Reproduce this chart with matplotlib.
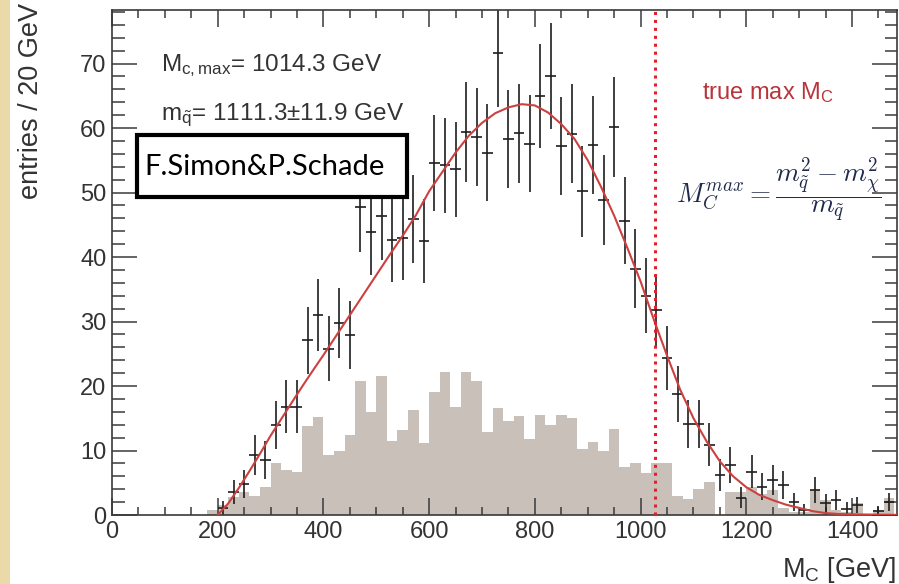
import numpy as np
import matplotlib
matplotlib.use("Agg")
import matplotlib.pyplot as plt
from matplotlib.patches import Rectangle
from matplotlib.ticker import MultipleLocator

plt.rcParams['font.family'] = ['Liberation Sans', 'DejaVu Sans']
plt.rcParams['mathtext.fontset'] = 'custom'
plt.rcParams['mathtext.rm'] = 'Liberation Sans'
plt.rcParams['mathtext.it'] = 'Liberation Sans:italic'
plt.rcParams['mathtext.bf'] = 'Liberation Sans:bold'

# background histogram (20 GeV bins, left edges)
bg_edges = [180, 200, 220, 240, 260, 280, 300, 320, 340, 360, 380, 400, 420, 440,
            460, 480, 500, 520, 540, 560, 580, 600, 620, 640, 660, 680, 700, 720,
            740, 760, 780, 800, 820, 840, 860, 880, 900, 920, 940, 960, 980, 1000,
            1020, 1040, 1060, 1080, 1100, 1120, 1140, 1160, 1180, 1200, 1220, 1240,
            1260, 1280, 1300, 1320, 1340, 1360, 1380, 1400, 1420, 1440, 1460]
bg_counts = [0.8, 1.5, 2.8, 3.6, 3.0, 4.4, 8.0, 6.9, 6.6, 13.8, 15.2, 9.3, 10.0, 12.4,
             20.8, 16.0, 21.6, 11.4, 13.2, 16.3, 11.1, 19.1, 22.1, 16.7, 22.1, 20.8, 12.8, 16.6,
             14.6, 15.3, 11.8, 15.5, 14.0, 15.5, 15.1, 10.2, 11.3, 10.0, 13.3, 7.4, 8.0, 6.5,
             8.0, 8.1, 3.0, 2.5, 4.1, 5.1, 0.0, 3.5, 3.5, 4.3, 3.3, 3.9,
             1.1, 0.5, 0.5, 3.9, 2.3, 0.8, 0.5, 1.8, 0.0, 0.8, 2.6]

# data points (bin centres)
mc_centres = [210, 230, 250, 270, 290, 310, 330, 350, 370, 390, 410, 430, 450, 470,
              490, 510, 530, 550, 570, 590, 610, 630, 650, 670, 690, 710, 730, 750,
              770, 790, 810, 830, 850, 870, 890, 910, 930, 950, 970, 990, 1010, 1030,
              1050, 1070, 1090, 1110, 1130, 1150, 1170, 1190, 1210, 1230, 1250, 1270,
              1290, 1310, 1330, 1350, 1370, 1390, 1410, 1450, 1470]
entries = [1.1, 3.6, 4.8, 9.3, 8.5, 14.0, 16.8, 16.8, 27.1, 31.0, 25.8, 29.8, 27.9, 47.7,
           43.9, 46.3, 42.6, 43.0, 45.9, 42.5, 54.6, 54.2, 53.6, 59.4, 58.6, 56.2, 71.7, 58.3,
           59.2, 57.6, 65.0, 68.1, 57.2, 59.1, 50.2, 57.4, 48.9, 60.1, 45.6, 38.2, 34.0, 31.8,
           24.3, 18.8, 14.1, 14.1, 10.9, 6.2, 7.8, 2.7, 6.7, 4.4, 5.4, 4.7,
           2.0, 0.8, 3.9, 1.9, 2.3, 1.0, 1.5, 0.6, 2.0]

# fit curve
fit_x = [200, 220, 240, 260, 280, 300, 325, 350, 375, 400, 425, 450, 475, 500, 525,
         550, 575, 600, 625, 650, 675, 700, 725, 750, 775, 800, 825, 850, 875, 900,
         925, 950, 975, 1000, 1025, 1050, 1075, 1100, 1125, 1150, 1175, 1200, 1225,
         1250, 1275, 1300, 1325, 1350, 1375, 1400, 1450, 1490]
fit_y = [0.0, 1.8, 4.2, 6.8, 9.5, 12.3, 15.5, 18.7, 21.8, 24.8, 27.9, 31.0, 34.1, 37.2, 40.3,
         43.3, 46.5, 50.2, 53.2, 56.2, 58.8, 60.8, 62.3, 63.2, 63.7, 63.5, 62.4, 60.6, 58.3, 55.0,
         50.9, 46.4, 41.4, 36.2, 30.3, 24.7, 19.4, 15.0, 11.4, 8.3, 6.0, 4.3, 3.1,
         2.3, 1.6, 1.1, 0.6, 0.3, 0.15, 0.1, 0.05, 0.02]

true_max = 1027

W, H = 899, 584
fig = plt.figure(figsize=(W / 100, H / 100), dpi=100)
ax = fig.add_axes([112 / W, 69 / H, 785 / W, 505 / H])

ax.bar(bg_edges, bg_counts, width=20, align='edge', color='#c9c1b9', lw=0, zorder=1)

y = np.array(entries)
ax.errorbar(mc_centres, y, yerr=np.sqrt(y), xerr=10, fmt='none',
            ecolor='#1e1e1e', elinewidth=1.2, capsize=0, zorder=2)
ax.plot(fit_x, fit_y, color='#cc4040', lw=1.5, zorder=3)
ax.axvline(true_max, color='#e0202c', ls=(0, (1, 1.6)), lw=2.2, zorder=4)

ax.set_xlim(0, 1485)
ax.set_ylim(0, 78.3)
ax.xaxis.set_major_locator(MultipleLocator(200))
ax.xaxis.set_minor_locator(MultipleLocator(50))
ax.yaxis.set_major_locator(MultipleLocator(10))
ax.yaxis.set_minor_locator(MultipleLocator(2))
ax.tick_params(which='both', direction='in', top=True, right=True,
               color='#3a3a3a', width=1.1, labelsize=17, labelcolor='#333333')
ax.tick_params(axis='x', which='major', length=12, pad=4)
ax.tick_params(axis='x', which='minor', length=6)
ax.tick_params(axis='y', which='major', length=18, pad=4)
ax.tick_params(axis='y', which='minor', length=9)
for s in ax.spines.values():
    s.set_color('#3a3a3a')
    s.set_linewidth(1.2)

ax.text(92, 68.8, r'M$_{\mathrm{c,max}}$= 1014.3 GeV', fontsize=17.5,
        color='#333333', va='baseline')
ax.text(92, 61.2, r'm$_{\tilde{\mathrm{q}}}$= 1111.3±11.9 GeV', fontsize=17.5,
        color='#333333', va='baseline')
ax.text(1116, 64.5, r'true max M$_{\mathrm{C}}$', fontsize=17,
        color='#b8343a', va='baseline')
ax.text(1261, 50.4, r'$M_C^{max} = \dfrac{m_{\tilde{q}}^2 - m_{\chi}^2}{m_{\tilde{q}}}$',
        fontsize=19.5, color='#1f2a4a', ha='center', va='center', math_fontfamily='cm')

fig.text(31 / W, 1 - 3 / H, 'entries / 20 GeV', rotation=90, ha='center', va='top',
         fontsize=19.5, color='#333333')
fig.text(782 / W, 1 - 577 / H, r'M$_{\mathrm{C}}$ [GeV]', ha='left', va='baseline',
         fontsize=19.5, color='#333333')

box = Rectangle((137 / W, 1 - 197 / H), 270 / W, 62 / H, transform=fig.transFigure,
                facecolor='white', edgecolor='black', lw=3, zorder=10)
fig.add_artist(box)
fig.text(265 / W, 1 - 167 / H, 'F.Simon&P.Schade', ha='center', va='center',
         fontsize=21, family='Lato', color='black', zorder=11)

border = Rectangle((0, 0), 10 / W, 1, transform=fig.transFigure,
                   facecolor='#ecd9aa', edgecolor='none', zorder=10)
fig.add_artist(border)

fig.savefig('out.png', dpi=100)
